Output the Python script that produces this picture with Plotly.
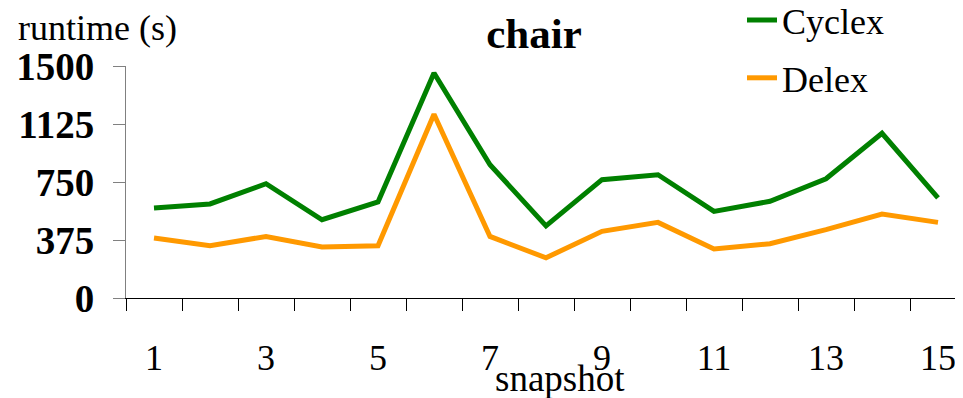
import plotly.graph_objects as go

snapshots = list(range(1, 16))
cyclex = [582, 608, 739, 506, 621, 1455, 862, 466, 765, 797, 560, 625, 771, 1065, 647]
delex = [388, 338, 398, 330, 338, 1188, 398, 260, 431, 489, 317, 351, 442, 543, 489]
y_ticks = [0, 375, 750, 1125, 1500]
x_labels = [1, 3, 5, 7, 9, 11, 13, 15]
x_boundaries = [i + 0.5 for i in range(0, 15)]

FONT = "Liberation Serif"
W, H = 955, 390
L, T, B = 118, 58, 99.7
PW, PH = W - L, H - T - B


def px(fx):
    return (fx - L) / PW


def py(fy):
    return (H - B - fy) / PH


fig = go.Figure()
fig.add_trace(go.Scatter(x=snapshots, y=cyclex, mode="lines", name="Cyclex",
                         line=dict(color="#008000", width=5), legendgroup="a"))
fig.add_trace(go.Scatter(x=snapshots, y=delex, mode="lines", name="Delex",
                         line=dict(color="#FF9900", width=5), legendgroup="b"))

fig.update_layout(
    width=W, height=H,
    margin=dict(l=L, r=0, t=T, b=B, autoexpand=False),
    paper_bgcolor="white", plot_bgcolor="white",
    font=dict(family=FONT, color="black", size=36),
    title=dict(text="<b>chair</b>", x=526/W, xanchor="center",
               y=1 - 25/H, yanchor="middle",
               font=dict(family=FONT, size=43, color="black")),
    legend=dict(x=px(734), xanchor="left", y=py(-18), yref="paper", yanchor="top",
                font=dict(family=FONT, size=36), tracegroupgap=8,
                bgcolor="rgba(0,0,0,0)"),
    showlegend=True,
)

fig.update_xaxes(
    range=[0.5, 0.5 + PW/56],
    tickvals=x_labels, ticktext=[str(v) for v in x_labels],
    ticks="", showgrid=False, zeroline=False,
    showline=True, linecolor="black", linewidth=1,
    tickfont=dict(family=FONT, size=36, color="black"),
    ticklabelstandoff=28,
    minor=dict(tickvals=x_boundaries, ticks="outside", ticklen=12,
               tickcolor="black", tickwidth=1, showgrid=False),
)
fig.update_yaxes(
    range=[0, 1500], tickvals=y_ticks, ticktext=[f"<b>{v}</b>" for v in y_ticks],
    ticks="outside", ticklen=12, tickcolor="#808080", tickwidth=1,
    showgrid=False, zeroline=False,
    showline=True, linecolor="#808080", linewidth=1,
    tickfont=dict(family=FONT, size=39, color="black"),
    ticklabelstandoff=11,
)

fig.add_annotation(text="runtime (s)", xref="paper", yref="paper",
                   x=px(8), xanchor="left", y=py(20), yanchor="middle",
                   showarrow=False, font=dict(family=FONT, size=36, color="black"))
fig.add_annotation(text="snapshot", xref="paper", yref="paper",
                   x=px(552), xanchor="center", y=py(371), yanchor="middle",
                   showarrow=False, font=dict(family=FONT, size=37, color="black"))

fig.write_html("out.html")
